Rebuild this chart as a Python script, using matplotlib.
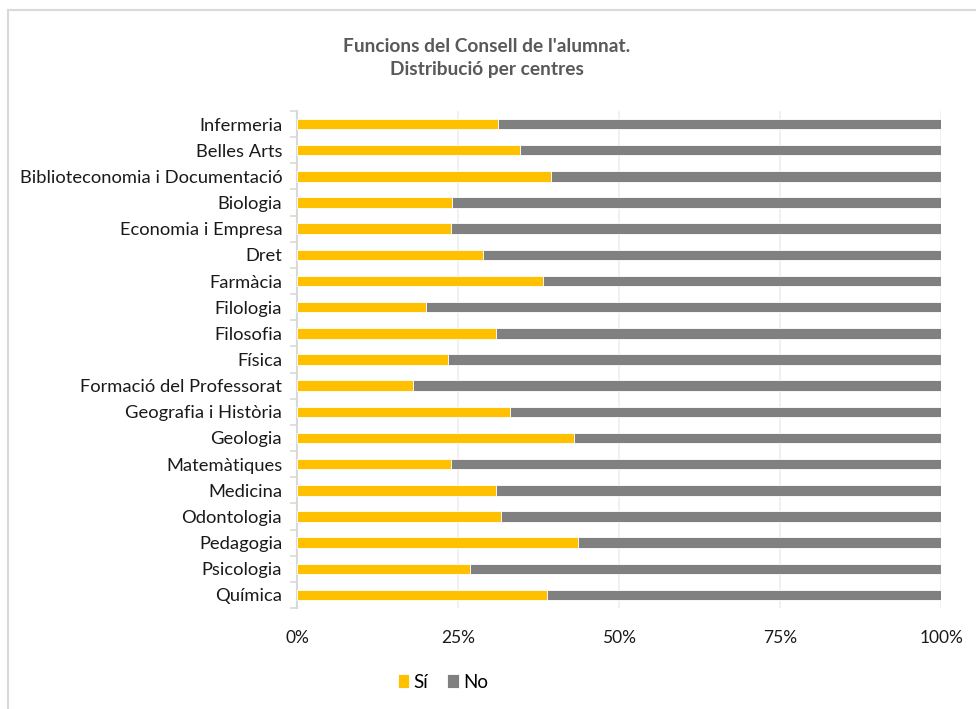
import matplotlib.pyplot as plt
from matplotlib.patches import Rectangle
from matplotlib.ticker import FixedLocator, PercentFormatter

centres = ['Infermeria', 'Belles Arts', 'Biblioteconomia i Documentació', 'Biologia',
           'Economia i Empresa', 'Dret', 'Farmàcia', 'Filologia', 'Filosofia', 'Física',
           'Formació del Professorat', 'Geografia i Història', 'Geologia', 'Matemàtiques',
           'Medicina', 'Odontologia', 'Pedagogia', 'Psicologia', 'Química']
si = [31.2, 34.6, 39.3, 24.0, 23.9, 28.8, 38.2, 19.9, 30.8, 23.3,
      18.0, 33.0, 42.9, 23.8, 30.9, 31.6, 43.5, 26.8, 38.8]
no = [100 - v for v in si]

plt.rcParams['font.family'] = ['Lato', 'DejaVu Sans']

fig = plt.figure(figsize=(9.76, 7.09), dpi=100)
ax = fig.add_axes([0.3048, 0.1425, 0.6597, 0.7009])

# outer chart frame like the Excel export
fig.patches.append(Rectangle((8 / 976, -0.01), 1.0, 1 - 10 / 709 + 0.01,
                             transform=fig.transFigure, fill=False,
                             edgecolor='#d9d9d9', linewidth=1.5))

y = list(range(len(centres)))
ax.barh(y, si, height=0.4, color='#ffc000', edgecolor='white', linewidth=0.6,
        label='Sí', zorder=3)
ax.barh(y, no, left=si, height=0.4, color='#808080', edgecolor='white', linewidth=0.6,
        label='No', zorder=3)

ax.set_xlim(0, 100)
ax.set_ylim(len(centres) - 0.5, -0.5)
ax.set_yticks(y)
ax.set_yticklabels(centres, fontsize=13.2, color='#1a1a1a')
ax.yaxis.set_minor_locator(FixedLocator([i - 0.5 for i in range(len(centres) + 1)]))
ax.tick_params(axis='y', which='major', length=0, pad=11)
ax.tick_params(axis='y', which='minor', length=5, color='#d9d9d9', width=1.2)

ax.set_xticks([0, 25, 50, 75, 100])
ax.xaxis.set_major_formatter(PercentFormatter(decimals=0))
ax.tick_params(axis='x', length=0, labelsize=12.5, labelcolor='#1a1a1a', pad=16)
ax.grid(axis='x', color='#eeeeee', linewidth=1.2, zorder=0)

for s in ['top', 'right', 'bottom']:
    ax.spines[s].set_visible(False)
ax.spines['left'].set_color('#d9d9d9')
ax.spines['left'].set_linewidth(1.5)

fig.text(0.499, 1 - 58 / 709, "Funcions del Consell de l'alumnat.\nDistribució per centres",
         ha='center', va='center', fontsize=13.8, fontweight='bold', color='#595959',
         linespacing=1.5)

ax.legend(loc='center', bbox_to_anchor=(443 / 976, 1 - 682 / 709),
          bbox_transform=fig.transFigure, ncol=2, frameon=False, fontsize=13.5,
          handlelength=0.6, handleheight=0.75, handletextpad=0.25, columnspacing=1.0)

fig.savefig('out.png', dpi=100, facecolor='white')
